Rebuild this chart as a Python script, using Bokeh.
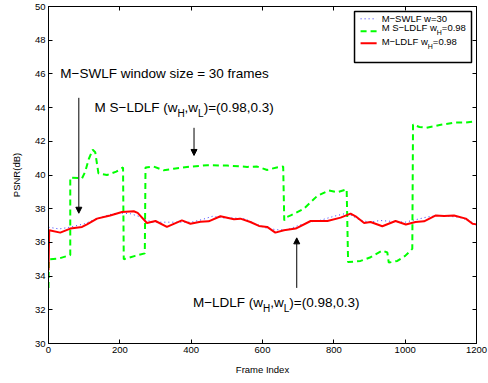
from bokeh.plotting import figure
from bokeh.models import Range1d, FixedTicker, LinearAxis, Arrow, NormalHead
from bokeh.core.properties import value
from bokeh.embed import file_html
from bokeh.resources import INLINE

# M-SWLF, sliding window of 30 frames
swlf_frame = [0, 30, 60, 100, 140, 180, 200, 230, 260, 290, 330, 360, 400, 430, 460,
              490, 520, 550, 580, 610, 640, 670, 700, 730, 760, 800, 830, 850, 870,
              900, 930, 960, 1000, 1030, 1060, 1090, 1120, 1150, 1180, 1200]
swlf_psnr = [36.9, 36.8, 36.9, 37.1, 37.45, 37.7, 37.75, 37.7, 37.5, 37.2, 37.2, 37.2,
             37.2, 37.35, 37.55, 37.45, 37.45, 37.4, 37.1, 36.85, 36.75, 36.75, 37.0,
             37.2, 37.3, 37.55, 37.7, 37.6, 37.35, 37.2, 37.3, 37.25, 37.2, 37.35,
             37.5, 37.6, 37.55, 37.5, 37.3, 37.0]

# M S-LDLF (wH, wL) = (0.98, 0.3)
sldlf_frame = [0, 1, 30, 61, 61, 94, 103, 113, 124, 131, 140, 164, 190, 209, 211, 243,
               270, 272, 295, 323, 351, 400, 445, 501, 557, 585, 613, 640, 658, 661,
               668, 679, 716, 753, 786, 810, 836, 840, 875, 903, 936, 950, 954, 978,
               1000, 1020, 1022, 1040, 1060, 1100, 1140, 1170, 1200]
sldlf_psnr = [33.3, 35.0, 35.05, 35.25, 39.85, 39.8, 40.2, 40.95, 41.5, 41.35, 40.1,
              40.0, 40.2, 40.45, 35.0, 35.2, 35.35, 40.45, 40.5, 40.28, 40.37, 40.5,
              40.58, 40.56, 40.48, 40.5, 40.3, 40.45, 40.5, 37.3, 37.5, 37.6, 38.0,
              38.75, 39.08, 38.98, 39.15, 34.83, 34.9, 35.12, 35.52, 35.4, 34.8, 34.9,
              35.2, 35.62, 43.0, 42.85, 42.8, 42.98, 43.12, 43.12, 43.2]

# M-LDLF (wH, wL) = (0.98, 0.3)
ldlf_frame = [0, 2, 33, 61, 94, 108, 136, 173, 206, 239, 250, 276, 300, 332, 374, 398,
              426, 449, 482, 520, 538, 566, 590, 613, 636, 660, 693, 735, 782, 819,
              847, 861, 885, 903, 936, 973, 1002, 1029, 1053, 1086, 1109, 1137, 1170,
              1189, 1200]
ldlf_psnr = [34.35, 36.72, 36.58, 36.82, 36.92, 37.07, 37.41, 37.6, 37.8, 37.85, 37.75,
             37.15, 37.27, 36.92, 37.31, 37.11, 37.23, 37.25, 37.55, 37.37, 37.41,
             37.21, 36.98, 36.92, 36.58, 36.72, 36.82, 37.27, 37.27, 37.47, 37.71,
             37.55, 37.15, 37.21, 36.96, 37.27, 37.06, 37.21, 37.25, 37.6, 37.57,
             37.6, 37.41, 37.11, 37.07]

x_ticks = [0, 200, 400, 600, 800, 1000, 1200]
y_ticks = [30, 32, 34, 36, 38, 40, 42, 44, 46, 48, 50]

FONT = "Liberation Sans"

# Helvetica/Arial advance widths (per 1000 em) for laying out subscripted text
ADV = {'M': 833, ' ': 278, 'S': 667, '\u2212': 584, 'L': 556, 'D': 722, 'F': 611,
       '(': 333, ')': 333, 'w': 722, 'H': 722, ',': 278, '=': 584, '.': 278, 'W': 944}


def width(s, size):
    return sum(ADV.get(c, 556) for c in s) * size / 1000.0


def rich_text(p, x, y, pieces, size, sub_size, sub_drop):
    off = 0.0
    for txt, sub in pieces:
        fs = sub_size if sub else size
        p.text(x=[x], y=[y], text=[txt], x_offset=off, y_offset=sub_drop if sub else 0,
               text_font=value(FONT), text_font_size=value(f"{fs}px"),
               text_baseline="middle", text_align="left", text_color="black")
        off += width(txt, fs)


p = figure(width=488, height=383, output_backend="svg", toolbar_location=None,
           x_range=Range1d(0, 1200), y_range=Range1d(30, 50),
           min_border_left=48, min_border_right=12, min_border_top=6,
           min_border_bottom=40)
p.xgrid.visible = False
p.ygrid.visible = False
p.outline_line_color = "black"
p.outline_line_width = 1
p.background_fill_color = "white"
p.border_fill_color = "white"

for ax, ticks in ((p.xaxis[0], x_ticks), (p.yaxis[0], y_ticks)):
    ax.ticker = FixedTicker(ticks=ticks)
    ax.major_tick_in = 4
    ax.major_tick_out = 0
    ax.minor_tick_line_color = None
    ax.major_label_text_font = FONT
    ax.major_label_text_font_size = "9.5px"
    ax.major_label_text_color = "black"
    ax.major_label_standoff = 3
    ax.axis_label_text_font = FONT
    ax.axis_label_text_font_size = "9.5px"
    ax.axis_label_text_font_style = "normal"
    ax.axis_label_text_color = "black"
    ax.axis_line_color = "black"
    ax.major_tick_line_color = "black"

p.xaxis.axis_label = "Frame Index"
p.xaxis.axis_label_standoff = 8
p.yaxis.axis_label = "PSNR(dB)"
p.yaxis.axis_label_standoff = 10

# mirrored tick marks on the top and right edges (no labels)
for side, ticks in (("above", x_ticks), ("right", y_ticks)):
    ax = LinearAxis(ticker=FixedTicker(ticks=ticks))
    ax.major_tick_in = 4
    ax.major_tick_out = 0
    ax.minor_tick_line_color = None
    ax.major_label_text_color = None
    ax.major_label_text_font_size = "1px"
    ax.major_label_standoff = 0
    ax.axis_line_color = "black"
    ax.major_tick_line_color = "black"
    p.add_layout(ax, side)

p.line(swlf_frame, swlf_psnr, line_color="#3a3aff", line_width=1, line_dash="1 3")
p.line(sldlf_frame, sldlf_psnr, line_color="#00ff00", line_width=2, line_dash="6 4")
p.line(ldlf_frame, ldlf_psnr, line_color="#ff0000", line_width=2)

# annotations
rich_text(p, 33, 46.04, [("M\u2212SWLF window size = 30 frames", False)], 13.5, 10, 6)
rich_text(p, 129, 44.03, [("M S\u2212LDLF (w", False), ("H", True), (",w", False),
                          ("L", True), (")=(0.98,0.3)", False)], 13.5, 10, 6)
rich_text(p, 405, 32.45, [("M\u2212LDLF (w", False), ("H", True), (",w", False),
                          ("L", True), (")=(0.98,0.3)", False)], 13.5, 10, 6)

for xs, ys, ye in ((85, 44.58, 37.73), (408, 42.8, 41.16), (696, 33.3, 36.27)):
    p.add_layout(Arrow(x_start=xs, y_start=ys, x_end=xs, y_end=ye, line_width=1,
                       line_color="black",
                       end=NormalHead(size=6, fill_color="black", line_color="black")))

# legend box
p.quad(left=[858], right=[1186], bottom=[46.68], top=[49.70], fill_color="white",
       line_color="black", line_width=1.5)
p.segment(x0=[875], x1=[920], y0=[49.27], y1=[49.27], line_color="#3a3aff",
          line_width=1, line_dash="1 3")
p.segment(x0=[875], x1=[920], y0=[48.53], y1=[48.53], line_color="#00ff00",
          line_width=2, line_dash="6 4")
p.segment(x0=[875], x1=[920], y0=[47.82], y1=[47.82], line_color="#ff0000",
          line_width=2)
rich_text(p, 934, 49.31, [("M\u2212SWLF w=30", False)], 9.5, 7, 5)
rich_text(p, 934, 48.77, [("M S\u2212LDLF w", False), ("H", True), ("=0.98", False)], 9.5, 7, 5)
rich_text(p, 934, 47.94, [("M\u2212LDLF w", False), ("H", True), ("=0.98", False)], 9.5, 7, 5)

open("out.html", "w").write(file_html(p, INLINE))
